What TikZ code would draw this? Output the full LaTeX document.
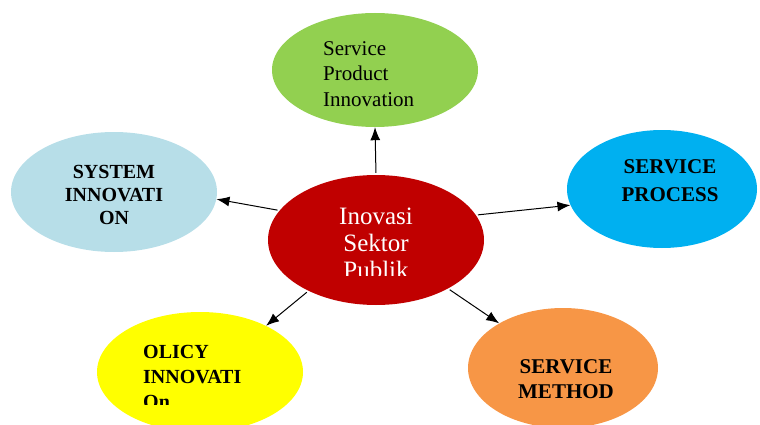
\documentclass[tikz,border=0pt]{standalone}
\usepackage{fontspec}
\setmainfont{Liberation Serif}
\usetikzlibrary{shapes.geometric,arrows.meta}

\definecolor{hubred}{HTML}{C00000}
\definecolor{leafgreen}{HTML}{92D050}
\definecolor{paleblue}{HTML}{B7DEE8}
\definecolor{skyblue}{HTML}{00B0F0}
\definecolor{lemon}{HTML}{FFFF00}
\definecolor{peach}{HTML}{F79646}

\begin{document}
\begin{tikzpicture}
	[x=1pt, y=1pt,
		bubble/.style		={ellipse
									, draw=none
									, inner sep=0pt
									},
		caption/.style	={inner sep=0pt
									, align=center
									, font=\bfseries\fontsize{21}{27}\selectfont
									},
		line/.style		 	={draw
									, line width=1pt
									, -{Latex[length=13pt,width=10pt]}
									, shorten <=2pt
									}
	]
\clip (0,0) rectangle (760,424);
% bubbles
\node [bubble, fill=hubred, minimum width=216, minimum height=130]		(hub)			at (376,184) {};
\node [bubble, fill=leafgreen, minimum width=206, minimum height=114]	(product)	at (375,354) {};
\node [bubble, fill=paleblue, minimum width=206, minimum height=120]	(system)		at (114,232) {};
\node [bubble, fill=skyblue, minimum width=190, minimum height=118]		(process)	at (662,235) {};
\node [bubble, fill=lemon, minimum width=206, minimum height=120]			(policy)		at (200,52) {};
\node [bubble, fill=peach, minimum width=190, minimum height=120]			(method)		at (563,56) {};
% texts
\begin{scope}
	\clip (280,149) rectangle (470,250);
	\node [caption, text=white, font=\fontsize{25}{27}\selectfont] (hub text) at (376,181) {Inovasi\\Sektor\\Publik};
\end{scope}
\node [caption, align=left, anchor=west, font=\fontsize{21}{25.5}\selectfont] (product text) at (323,350) {Service\\Product\\Innovation};
\begin{scope}
	\clip (20,199) rectangle (210,280);
	\node [caption, font=\bfseries\fontsize{20}{23}\selectfont] (system text) at (114,229) {SYSTEM\\INNOVATI\\ON};
\end{scope}
\node [caption, font=\bfseries\fontsize{21}{28}\selectfont] (process text) at (670,243) {SERVICE\\PROCESS};
\begin{scope}
	\clip (100,20) rectangle (300,110);
	\node [caption, align=left, anchor=west, font=\bfseries\fontsize{20}{25}\selectfont] (policy text) at (143,47) {OLICY\\INNOVATI\\On};
\end{scope}
\node [caption, font=\bfseries\fontsize{21}{25}\selectfont] (method text) at (566,45) {SERVICE\\METHOD};
% arrows
\begin{scope}[every path/.style=line]
	\path		(hub.north)		-- (product.south);
	\path		(hub.163)			-- (system.-4);
	\path		(hub.14)			-- (process.190);
	\path		(hub.217)			-- (policy.35);
	\path		(hub.-34)			-- (method.145);
\end{scope}
\end{tikzpicture}
\end{document}
